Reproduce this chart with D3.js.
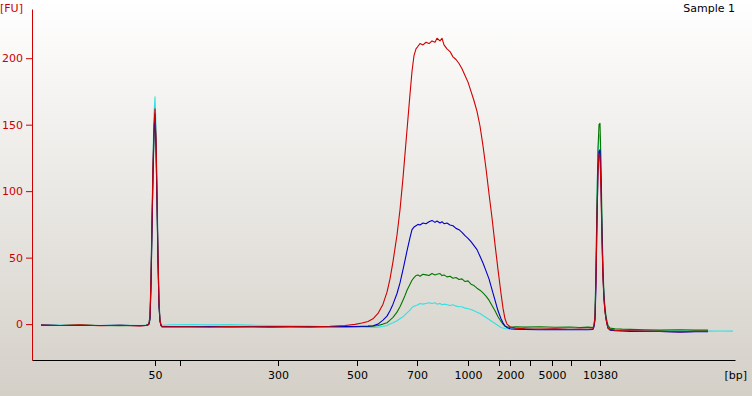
<!DOCTYPE html>
<html>
<head>
<meta charset="utf-8">
<script src="https://cdn.jsdelivr.net/npm/d3@7"></script>
<style>
body{margin:0;overflow:hidden;background:#fff}
text{font-family:"DejaVu Sans",sans-serif;font-size:11px}
</style>
</head>
<body>
<svg id="chart" width="752" height="396"></svg>
<script>
// ladder peaks: size in bp and migration time in seconds
const ladderBp = [50, 100, 300, 500, 700, 1000, 1500, 2000, 3000, 5000, 7500, 10380]
const ladderTime = [32.3, 34.8, 44.6, 52.5, 58.5, 63.6, 66.7, 67.8, 69.8, 72.0, 73.9, 76.8]
const labeledBp = [50, 300, 500, 700, 1000, 2000, 5000, 10380]
const fuTicks = [0, 50, 100, 150, 200]

// migration time (s) of each sample point
const time = [20.9,22.8,24.8,26.8,28.8,30.8,31.4,31.6,
  31.7,31.8,31.9,32.0,32.1,32.2,32.3,32.4,32.5,32.6,32.7,32.8,32.9,33.0,
  33.8,35.8,37.8,39.8,41.8,43.8,45.8,47.8,49.8,51.3,52.3,53.0,53.6,
  54.1,54.6,55.1,55.5,55.8,56.1,56.5,56.8,57.1,57.3,57.5,57.8,58.0,58.2,58.4,58.6,58.8,59.1,59.4,59.7,
  60.0,60.3,60.5,60.8,61.0,61.2,61.5,61.8,62.1,62.4,62.7,63.0,63.3,63.6,63.9,64.2,64.5,64.8,65.1,65.4,
  65.7,66.0,66.3,66.6,66.9,67.1,67.3,67.5,67.8,
  68.3,69.3,70.8,72.3,73.8,74.8,75.6,76.1,
  76.2,76.3,76.4,76.5,76.6,76.7,76.8,76.9,77.0,77.1,77.2,77.3,77.4,77.5,77.6,
  77.8,78.3,79.0,79.8,81.3,82.8,84.8,86.3,87.6,88.8,90.1]

// fluorescence [FU] per sample
const cyanFU = [-0.6,-0.8,-0.7,-1,-0.8,-1,-0.8,-0.4,
  1,7,38,82,125,158,171,148,104,57,18,4,0,-1,
  -0.5,-0.3,-0.6,-0.4,-0.8,-1,-1.2,-1.5,-2,-2.2,-2.3,-2.4,-2.5,
  -2.5,-2.3,-1.8,-1,0,1,2.5,4,5.5,7,8.5,10.5,12.5,13.5,14,14.5,15.5,15,15.5,16,
  15.5,16,15,15.5,14.5,15,14.5,14,14.5,13.5,13,13,12,11.5,11,10,9,8,6.5,5,
  3.5,2,0.5,-1,-2.5,-3,-3.5,-3.5,-3.7,
  -3.8,-3.5,-3.9,-3.7,-4,-3.8,-3.9,-3.5,
  -1,7,45,95,130,143,140,110,70,38,20,10,5,1,-2,
  -4,-4.5,-4.6,-4.8,-5,-5,-5.2,-5.2,-5.3,-5.2,-5.3]

const greenFU = [-0.9,-1.1,-0.7,-1,-1.2,-1,-0.9,-0.6,
  0,4,28,70,110,140,155,133,90,46,13,2,-1,-2,
  -2,-1.9,-2,-2.1,-1.9,-2,-2,-1.8,-2,-2,-1.9,-1.8,-1.7,
  -1.5,-1,0,1,3,5,9,13,18,21.5,25.5,30,33,35,36.5,37,36,37.5,37,36.5,
  38,37,37.5,38,36.5,37,35.5,36,34.5,35,33.5,34,32,32.5,30,29,27,25.5,23.5,21,
  18,14,10,5.5,2,0,-1.5,-2,-2.5,
  -2,-2.3,-2,-2.4,-2.2,-2.5,-2.3,-2.5,
  -1,6,42,92,132,150,151,122,76,41,22,12,6,2,-1,
  -3,-3.5,-3.8,-4,-4.2,-4.5,-4.3,-4.5,-4.5,null,null]

const blueFU = [-0.7,-1,-1,-1.1,-0.9,-1.2,-1,-0.6,
  0,4,30,72,115,145,158,135,92,48,14,2,-1,-2,
  -1.8,-2,-1.9,-2,-2,-2.1,-2,-2.1,-2,-1.9,-1.8,-1.6,-1.5,
  -1.2,0,3,6,10,15,23,31,41,48,55,65,71,73,74,75,74.5,76,75.5,77,
  78,76.5,77.5,76,77,75.5,76,74.5,74,72,71,69,66.5,64.5,62,59,56,51,46,40,
  34,26,18,10,4,1,-1.5,-2.5,-3.5,
  -3.8,-4,-4.2,-4,-4.3,-4.1,-4.2,-4,
  -2,3,30,78,115,130,131,105,66,36,19,10,4,0,-3,
  -4.5,-5,-5.2,-5.5,-5.4,-5.6,-6,-5.8,-5.7,null,null]

const redFU = [-0.8,-1,-0.6,-1.2,-0.9,-1.3,-1,-0.5,
  1,6,35,78,120,150,162,140,98,52,16,3,-1,-2,
  -2,-2,-2.2,-1.8,-2,-2.1,-1.9,-2,-1.6,-1,-0.2,0.8,2,
  4,8,15,24,34,47,67,86,110,128,146,173,190,202,207,209,211,210,212,211,
  213,212,215,213,215,210,207,205,201,199,196,192,187,182,175,168,160,149,134,117,
  98,80,60,41,23,12,4,0,-2,
  -3,-3.5,-3.8,-3.6,-4,-3.8,-4,-3.5,
  -1,5,35,80,115,128,126,100,62,34,18,9,4,0,-3,
  -4,-4.5,-5,-5,-5.3,-5.5,-5.8,-5.5,-5.5,null,null]

const series = [
  {name: 'cyan', color: '#30e2e2', values: cyanFU},
  {name: 'green', color: '#007800', values: greenFU},
  {name: 'blue', color: '#0000c8', values: blueFU},
  {name: 'red', color: '#d00000', values: redFU}
]

const svg = d3.select('#chart'),
  width = +svg.attr('width'),
  height = +svg.attr('height')
const margin = {top: 9, right: 17, bottom: 36, left: 32}

// background gradient
const grad = svg.append('defs').append('linearGradient')
  .attr('id', 'bg').attr('x1', 0).attr('y1', 0).attr('x2', 0).attr('y2', 1)
grad.append('stop').attr('offset', '0%').attr('stop-color', '#ffffff')
grad.append('stop').attr('offset', '100%').attr('stop-color', '#d4d0c8')
svg.append('rect').attr('width', width).attr('height', height).attr('fill', 'url(#bg)')

const x = d3.scaleLinear().domain([20, 90.3]).range([margin.left, width - margin.right])
const y = d3.scaleLinear().domain([-27, 237]).range([height - margin.bottom, margin.top])

const line = d3.line()
  .defined(d => d[1] != null)
  .x(d => x(d[0]))
  .y(d => y(d[1]))

svg.append('g').selectAll('path').data(series).enter().append('path')
  .attr('d', s => line(time.map((t, i) => [t, s.values[i]])))
  .attr('fill', 'none')
  .attr('stroke', s => s.color)
  .attr('stroke-width', 1.1)
  .attr('stroke-linejoin', 'round')

// x axis (bp ladder)
const xAxis = svg.append('g')
  .attr('transform', `translate(0,${height - margin.bottom})`)
  .call(d3.axisBottom(x).tickValues(ladderTime).tickSize(6).tickSizeOuter(0).tickPadding(5)
    .tickFormat((t, i) => labeledBp.includes(ladderBp[i]) ? ladderBp[i] : ''))
xAxis.select('.domain').attr('stroke', '#000')
xAxis.selectAll('.tick line').attr('stroke', '#000')
xAxis.selectAll('text').attr('fill', '#000').style('font-family', '"DejaVu Sans",sans-serif').style('font-size', '11px')

// y axis (FU)
const yAxis = svg.append('g')
  .attr('transform', `translate(${margin.left},0)`)
  .call(d3.axisLeft(y).tickValues(fuTicks).tickSize(6).tickSizeOuter(0).tickPadding(3))
yAxis.select('.domain').attr('stroke', '#cc0000')
yAxis.selectAll('.tick line').attr('stroke', '#cc0000')
yAxis.selectAll('text').attr('fill', '#cc0000').style('font-family', '"DejaVu Sans",sans-serif').style('font-size', '11px')

svg.append('text').attr('x', 0).attr('y', 12).attr('fill', '#cc0000').text('[FU]')
svg.append('text').attr('x', 747).attr('y', 379).attr('text-anchor', 'end').attr('fill', '#000').text('[bp]')
svg.append('text').attr('x', 735).attr('y', 12).attr('text-anchor', 'end').attr('fill', '#000').text('Sample 1')
</script>
</body>
</html>
